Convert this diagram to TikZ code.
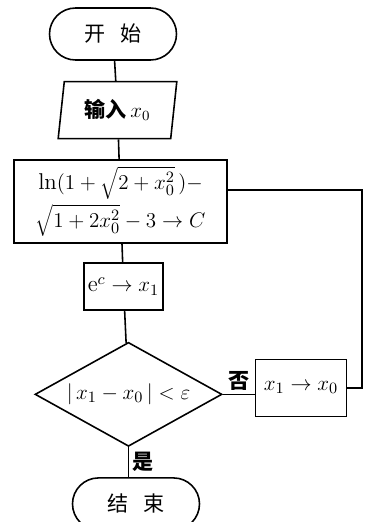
\documentclass[tikz,border=0pt]{standalone}
\usepackage{fontspec}
\newfontfamily\cjk{Noto Sans CJK SC}
\usetikzlibrary{positioning,shapes.geometric}

\begin{document}
\begin{tikzpicture}[
  line width=0.9pt,
  font=\cjk\fontsize{12}{14}\selectfont,
  term/.style={draw,rounded corners=5.2mm,minimum width=25.4mm,
               minimum height=10.4mm,inner sep=0pt},
  io/.style={draw,trapezium,trapezium left angle=80,
             trapezium right angle=100,trapezium stretches=true,
             minimum width=23.8mm,minimum height=11.4mm,inner sep=0pt,
             font=\cjk\bfseries\fontsize{12}{14}\selectfont},
  proc/.style={draw,inner sep=2pt,align=center,
               font=\fontsize{13}{17}\selectfont},
  test/.style={draw,diamond,aspect=1.8,minimum width=37.4mm,
               minimum height=20.8mm,inner sep=0pt,
               font=\fontsize{13}{17}\selectfont},
  lbl/.style={font=\cjk\bfseries\fontsize{12}{14}\selectfont,inner sep=2pt},
]
\useasboundingbox (0,0) rectangle (7.34,-10.44);

% Main column
\node[term] (start) at (2.26,-0.68) {开\hspace{0.7em}始};
\node[io,below=4mm of start,xshift=0.9mm] (input) {输入\,$x_0$};
\node[proc,minimum width=42.6mm,minimum height=16.6mm,
      below=4mm of input,xshift=0.6mm] (calc)
  {$\ln(1+\sqrt{2+x_0^2}\,)-$\\[2pt]$\sqrt{1+2x_0^2}-3\to C$};
\node[proc,minimum width=15.4mm,minimum height=9.4mm,
      below=3.6mm of calc,xshift=0.6mm] (expo) {$\mathrm{e}^c\to x_1$};
\node[test,below=6.2mm of expo,xshift=1mm] (check)
  {$|\,x_1-x_0\,|<\varepsilon$};
\node[term,below=6mm of check,xshift=1.5mm] (stop) {结\hspace{0.7em}束};

% Update box (right of the test)
\node[proc,minimum width=18.2mm,minimum height=11.4mm,
      right=6.4mm of check,yshift=1.3mm] (swap) {$x_1\to x_0$};

% Connectors
\draw (start) -- (input);
\draw (input) -- (calc);
\draw (calc) -- (expo);
\draw (expo) -- (check);
\draw (check.east) -- node[lbl,above] {否} (check.east -| swap.west);
\draw (check.south) -- node[lbl,right] {是} (check.south |- stop.north);

% Loop back
\coordinate (turn) at (7.24,-3.8);
\draw (swap.east) -| (turn) -- (calc.east |- turn);

\end{tikzpicture}
\end{document}
